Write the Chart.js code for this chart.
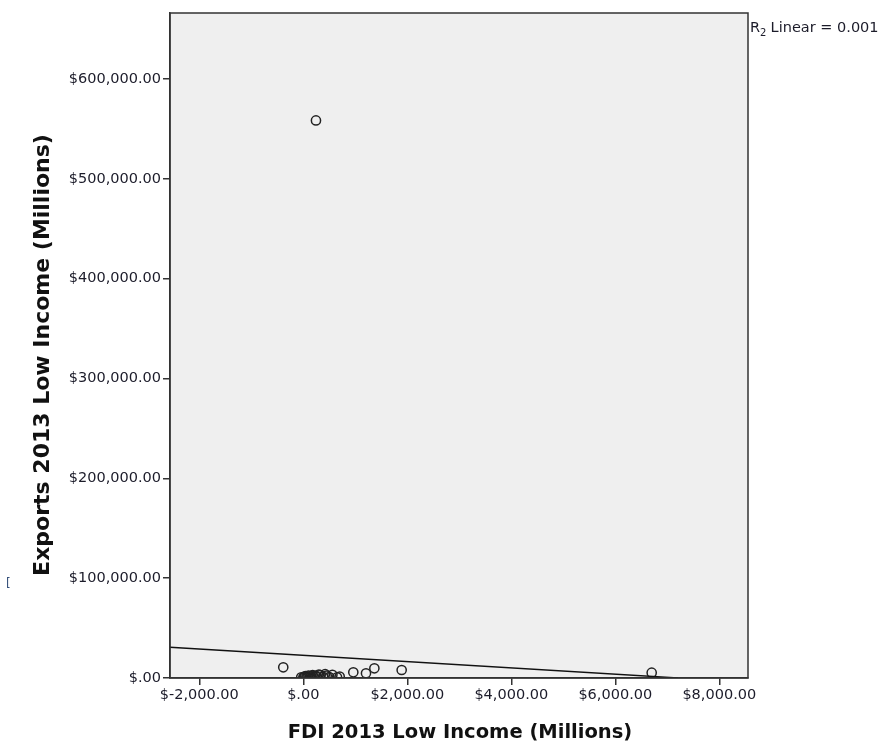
<!DOCTYPE html>
<html>
<head>
<meta charset="utf-8">
<script src="https://cdn.jsdelivr.net/npm/chart.js@4.4.1/dist/chart.umd.min.js"></script>
<style>
  html, body { margin: 0; padding: 0; background: #fff; }
  #wrap { width: 884px; height: 744px; position: relative; }
</style>
</head>
<body>
<div id="wrap"><canvas id="scatter" width="884" height="744"></canvas></div>
<script>
// FDI (x) vs exports (y), millions of dollars, low income countries 2013
var fdi = [244, -385, 962, 1206, 1367, 1892, 6700,
           -40, 0, 20, 40, 60, 80, 100, 120, 150, 180, 200, 230, 260,
           300, 330, 380, 420, 450, 500, 560, 650, 700];
var exportsVal = [558400, 10700, 5700, 4700, 9700, 8000, 5300,
                  600, 500, 1200, 2000, 800, 1500, 2500, 600, 1800, 3000, 1000, 2200, 1500,
                  3500, 2800, 1200, 3800, 2500, 1000, 3200, 600, 1500];

// linear fit (from the stats output): exports = a + b * fdi
var fitIntercept = 22700;
var fitSlope = -3.15;
var rSquared = '0.001';

var xTicks = [-2000, 0, 2000, 4000, 6000, 8000];
var yTicks = [0, 100000, 200000, 300000, 400000, 500000, 600000];
var xMin = -2563, xMax = 8552;
var yMin = 0, yMax = 666000;

var points = fdi.map(function(v, i){ return { x: v, y: exportsVal[i] }; });
var fitEnd = -fitIntercept / fitSlope;
var fitLine = [
  { x: xMin, y: fitIntercept + fitSlope * xMin },
  { x: fitEnd, y: 0 }
];

function money(v){
  if (v === 0) return '$.00';
  var s = Math.abs(v).toLocaleString('en-US');
  return '$' + (v < 0 ? '-' : '') + s + '.00';
}

var ink = '#1c1c2a';
var tickFont = { family: 'DejaVu Sans', size: 14.5 };

var framePlugin = {
  id: 'frame',
  beforeDraw: function(chart){
    var c = chart.ctx, a = chart.chartArea;
    c.save();
    c.fillStyle = '#efefef';
    c.fillRect(a.left, a.top, a.right - a.left, a.bottom - a.top);
    c.restore();
  },
  afterDraw: function(chart){
    var c = chart.ctx, a = chart.chartArea;
    c.save();
    c.strokeStyle = '#333';
    c.lineWidth = 1.5;
    c.strokeRect(a.left, a.top, a.right - a.left, a.bottom - a.top);

    c.fillStyle = '#111';
    c.textAlign = 'center';
    c.textBaseline = 'middle';
    c.font = 'bold 19.5px "DejaVu Sans", sans-serif';
    c.fillText('FDI 2013 Low Income (Millions)', 460, 733);
    c.font = 'bold 22px "DejaVu Sans", sans-serif';
    c.translate(43, 355);
    c.rotate(-Math.PI / 2);
    c.fillText('Exports 2013 Low Income (Millions)', 0, 0);
    c.setTransform(1, 0, 0, 1, 0, 0);

    // fit legend
    c.textAlign = 'left';
    c.textBaseline = 'alphabetic';
    c.font = '14.5px "DejaVu Sans", sans-serif';
    c.fillStyle = ink;
    c.fillText('R', 750, 32);
    c.font = '10px "DejaVu Sans", sans-serif';
    c.fillText('2', 760, 36);
    c.font = '14.5px "DejaVu Sans", sans-serif';
    c.fillText(' Linear = ' + rSquared, 766, 32);

    c.fillStyle = '#35507a';
    c.font = '12px "DejaVu Sans", sans-serif';
    c.fillText('[', 6, 587);
    c.restore();
  }
};

new Chart('scatter', {
  type: 'scatter',
  data: {
    datasets: [{
      data: points,
      pointRadius: 4.6,
      pointHoverRadius: 4.6,
      pointBorderWidth: 1.5,
      pointBorderColor: '#222',
      pointBackgroundColor: 'rgba(0,0,0,0)',
      order: 1
    }, {
      type: 'line',
      data: fitLine,
      borderColor: '#111',
      borderWidth: 1.4,
      pointRadius: 0,
      fill: false,
      order: 0
    }]
  },
  options: {
    responsive: false,
    animation: false,
    layout: { padding: { left: 0, top: 13, right: 136, bottom: 0 } },
    plugins: { legend: { display: false }, tooltip: { enabled: false } },
    scales: {
      x: {
        type: 'linear',
        min: xMin,
        max: xMax,
        afterBuildTicks: function(s){ s.ticks = xTicks.map(function(v){ return { value: v }; }); },
        afterFit: function(s){ s.height = 66; },
        grid: { drawOnChartArea: false, tickLength: 7, tickColor: '#333', lineWidth: 1.5 },
        border: { color: '#333', width: 1.5 },
        ticks: { color: ink, font: tickFont, padding: 2, maxRotation: 0, callback: money }
      },
      y: {
        type: 'linear',
        min: yMin,
        max: yMax,
        afterBuildTicks: function(s){ s.ticks = yTicks.map(function(v){ return { value: v }; }); },
        afterFit: function(s){ s.width = 170; },
        grid: { drawOnChartArea: false, tickLength: 7, tickColor: '#333', lineWidth: 1.5 },
        border: { color: '#333', width: 1.5 },
        ticks: { color: ink, font: tickFont, padding: 2, callback: money }
      }
    }
  },
  plugins: [framePlugin]
});
</script>
</body>
</html>
